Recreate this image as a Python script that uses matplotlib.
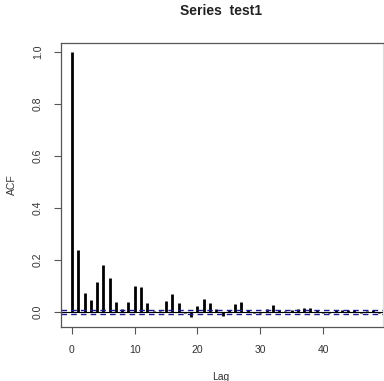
import numpy as np
import matplotlib
matplotlib.use("Agg")
import matplotlib.pyplot as plt

# ACF values
lags = np.arange(0, 50)
acf = [1.0, 0.238, 0.074, 0.046, 0.115, 0.179, 0.131, 0.038, 0.010, 0.038,
       0.100, 0.097, 0.036, 0.005, 0.005, 0.042, 0.069, 0.036, -0.006, -0.020,
       0.023, 0.051, 0.035, 0.012, -0.015, 0.009, 0.032, 0.038, 0.006, -0.006,
       -0.005, 0.013, 0.028, 0.009, 0.005, 0.006, 0.012, 0.014, 0.015, 0.008,
       -0.005, -0.005, 0.006, 0.007, 0.006, 0.006, -0.004, 0.005, 0.006, -0.004]
ci = 0.0065
title = "Series  test1"
xticks = [0, 10, 20, 30, 40]
yticks = [0.0, 0.2, 0.4, 0.6, 0.8, 1.0]

plt.rcParams['font.family'] = ['Liberation Sans', 'DejaVu Sans']

W, H = 384, 381
fig = plt.figure(figsize=(W / 100, H / 100), dpi=100)
ax = fig.add_axes([61 / W, (H - 327) / H, (383 - 61) / W, (327 - 43) / H])

ax.vlines(lags, 0, acf, colors="black", linewidth=2.0)
ax.axhline(0, color="black", linewidth=0.8)
ax.axhline(ci, color="#1a1a8c", linestyle=(0, (4, 3)), linewidth=1.0)
ax.axhline(-ci, color="#1a1a8c", linestyle=(0, (4, 3)), linewidth=1.0)

ax.set_xlim(-1.75, 49.56)
ax.set_ylim(-0.058, 1.035)
ax.set_xticks(xticks)
ax.set_yticks(yticks)
ax.set_yticklabels([f"{v:.1f}" for v in yticks], rotation=90, va="center")
ax.tick_params(direction="out", length=5, width=0.8, colors="#555555",
               labelsize=7.5, labelcolor="#333333", pad=8)
for s in ax.spines.values():
    s.set_color("#555555")
    s.set_linewidth(0.9)
ax.spines["right"].set_color("#dddddd")

fig.text(221 / W, 1 - 11 / H, title, ha="center", va="center",
         fontsize=10, fontweight="bold", color="#222222")
fig.text(221 / W, 1 - 377 / H, "Lag", ha="center", va="center",
         fontsize=7.5, color="#333333")
fig.text(12 / W, 1 - 185 / H, "ACF", ha="center", va="center",
         rotation=90, fontsize=7.5, color="#333333")

fig.savefig("out.png", dpi=100)
